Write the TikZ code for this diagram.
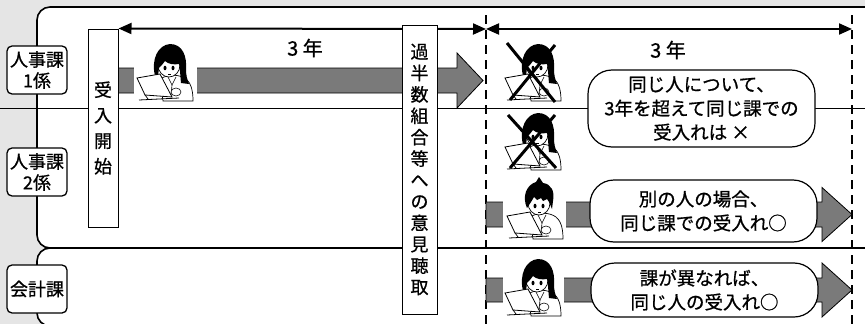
\documentclass[tikz,border=0pt]{standalone}
\usepackage{fontspec}
\setmainfont{Noto Sans CJK JP}[FakeBold=0.8]
\usetikzlibrary{arrows.meta}

% hair shapes for the desk figures
\newcommand{\womanhair}{%
  \fill (-10,3) .. controls (-14,-14) and (-7,-28) .. (5,-29)
    .. controls (18,-29) and (22,-16) .. (21,-4)
    .. controls (21,2) and (22,6) .. (24,11) -- (16,10)
    .. controls (15,0) and (15,-6) .. (14,-9)
    .. controls (9,-8) and (3,-9) .. (0,-12)
    .. controls (-2,-9) and (-4,-7) .. (-6,-5) -- (-7,3) -- cycle;}
\newcommand{\manhair}{%
  \fill (-8,-3) .. controls (-13,-14) and (-9,-26) .. (1,-29) -- (4,-34) -- (8,-28)
    .. controls (16,-27) and (20,-20) .. (18,-10) -- (17,-2) -- (14,-9)
    -- (12,-12) -- (8,-10) -- (6,-13) -- (2,-11) -- (-1,-14) -- (-4,-9) -- cycle;}
% a person working at a laptop; #1 draws the hair
\newcommand{\deskworker}[1]{%
  \draw[fill=white, line width=0.7pt] (-5,6) .. controls (3,1) and (14,1) .. (21,6)
    .. controls (27,11) and (28,20) .. (28,28) -- (-2,28) -- cycle;
  \draw[line width=0.6pt] (3,4) -- (7,12) -- (11,4);
  \draw[line width=0.6pt] (7,12) -- (6,22);
  \draw[fill=white, line width=0.7pt] (4,-8) ellipse[x radius=11, y radius=12];
  #1
  \fill (0,-5) ellipse[x radius=1.5, y radius=2.3];
  \fill (8,-5) ellipse[x radius=1.5, y radius=2.3];
  \draw[line width=0.5pt] (3,1) -- (6,1);
  \draw[fill=white, line width=0.8pt] (-28,5) -- (-5,1) -- (7,24) -- (-20,22) -- cycle;
  \draw[line width=0.8pt] (-26,27) -- (14,25);
  \draw[line width=0.7pt] (-20,22) -- (-17,26);
  \draw[fill=white, line width=0.6pt] (11,19) ellipse[x radius=5, y radius=4];
}

\tikzset{
  pics/woman/.style={code={\deskworker{\womanhair}}},
  pics/man/.style={code={\deskworker{\manhair}}},
  dept/.style={draw, line width=1.3pt, fill=white, rounded corners=5pt,
    minimum width=60pt, minimum height=48pt, inner sep=0pt, align=center,
    font=\fontsize{18}{21}\selectfont},
  vbox/.style={draw, line width=1pt, fill=white, inner sep=0pt, align=center},
  note/.style={draw, line width=1.2pt, fill=white, rounded corners=24pt,
    minimum width=227pt, inner sep=0pt, align=center,
    font=\fontsize{18.5}{24}\selectfont},
  span/.style={line width=2pt,
    {Triangle[length=13pt,width=11pt]}-{Triangle[length=13pt,width=11pt]}},
  period/.style={line width=1.6pt, dash pattern=on 9pt off 6pt},
  flow/.style={draw=black, line width=0.8pt, fill=black!52},
  years/.style={font=\fontsize{20}{22}\selectfont, inner sep=0pt},
  cross/.style={line width=3pt},
  border/.style={line width=1.6pt, rounded corners=13pt},
}

\begin{document}
\begin{tikzpicture}[x=1pt, y=-1pt]
\useasboundingbox (0,0) rectangle (865,324);

% backdrop and the two white panels
\fill[black!10] (0,0) rectangle (865,324);
\fill[white, rounded corners=13pt] (890,7) -- (37,7) -- (37,248) -- (890,248) -- cycle;
\fill[white, rounded corners=13pt] (890,248) -- (37,248) -- (37,326) -- (890,326) -- cycle;

% row divider between 1係 and 2係
\draw[line width=0.9pt] (0,108) -- (865,108);

% panel outlines
\draw[border] (890,7) -- (37,7) -- (37,248) -- (890,248);
\draw[border] (890,248) -- (37,248) -- (37,326) -- (890,326);

% period boundaries
\coordinate (cutAtop) at (486,15);
\coordinate (cutAbot) at (486,324);
\coordinate (cutBtop) at (852,15);
\coordinate (cutBbot) at (852,324);
\draw[period] (cutAtop) -- (cutAbot);
\draw[period] (cutBtop) -- (cutBbot);

% flows of acceptance
\draw[flow] (118,68) -- (457,68) -- (457,53) -- (483,80.5) -- (457,108) -- (457,93) -- (118,93) -- cycle;
\draw[flow] (486,202) -- (822,202) -- (822,187.5) -- (852,214.5) -- (822,241.5) -- (822,227) -- (486,227) -- cycle;
\draw[flow] (486,278) -- (822,278) -- (822,263) -- (852,290) -- (822,317) -- (822,302) -- (486,302) -- cycle;

% clear space around the figures
\fill[white] (134,66) rectangle (197,95);
\fill[white] (503,200) rectangle (566,229);
\fill[white] (503,276) rectangle (564,304);

% figures
\pic (w1) at (165,73) {woman};
\pic (w2) at (533,73) {woman};
\pic (w3) at (533,142) {woman};
\pic (m1) at (535,211) {man};
\pic (w4) at (533,288) {woman};

% not allowed
\draw[cross] (507,43) -- (555,102);
\draw[cross] (555,45) -- (510,100);
\draw[cross] (508,115) -- (556,168);
\draw[cross] (555,115) -- (510,168);

% start of acceptance
\node[vbox, minimum width=30pt, minimum height=198pt,
  font=\fontsize{18}{25.5}\selectfont] (start) at (103,128) {受\\入\\開\\始};

% time spans
\coordinate (spanmid) at (486,29);
\coordinate (spanend) at (852,29);
\draw[span] (start.north east) -- (spanmid);
\draw[span] (spanmid) -- (spanend);
\node[years] (y1) at (305,48) {3 年};
\node[years] (y2) at (668,50) {3 年};

% hearing of the majority union
\node[vbox, minimum width=35pt, minimum height=289pt,
  font=\fontsize{18}{21.4}\selectfont] (hear) at (419.5,169.5)
  {過\\半\\数\\組\\合\\等\\へ\\の\\意\\見\\聴\\取};

% notes
\node[note, minimum height=77pt] (n1) at (701.5,108.5)
  {同じ人について、\\3年を超えて同じ課での\\受入れは ×};
\node[note, minimum height=62pt] (n2) at (703.5,211)
  {別の人の場合、\\同じ課での受入れ○};
\node[note, minimum height=54pt] (n3) at (704.5,290)
  {課が異なれば、\\同じ人の受入れ○};

% departments
\node[dept] (d1) at (37,70) {人事課\\1係};
\node[dept] (d2) at (37,172) {人事課\\2係};
\node[dept] (d3) at (37,289) {会計課};
\end{tikzpicture}
\end{document}
